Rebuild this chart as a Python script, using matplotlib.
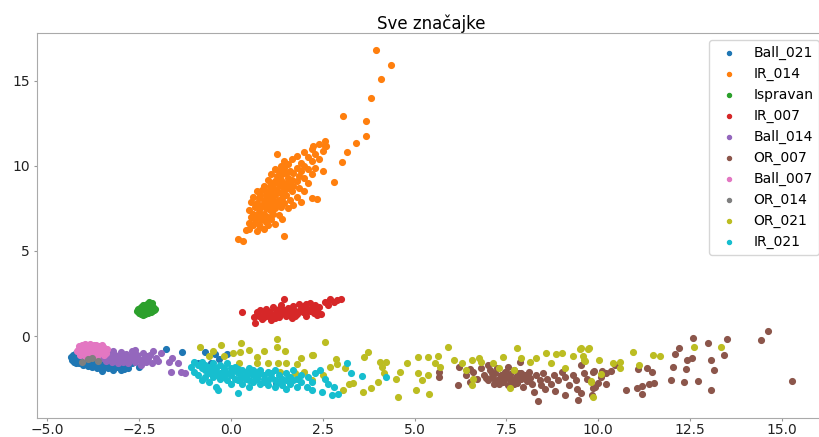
import matplotlib
matplotlib.use("Agg")
from matplotlib import pyplot as plt

# tocke po klasama (x, y) procitane sa slike
ball_021 = [(-4.35,-1.25),(-4.32,-1.4),(-4.3,-1.1),(-4.28,-1.55),(-4.25,-1.3),(-4.22,-1.0),(-4.2,-1.45),(-4.18,-1.2),
            (-4.15,-1.6),(-4.12,-1.35),(-4.1,-1.05),(-4.08,-1.5),(-4.05,-1.25),(-4.02,-1.7),(-4.0,-1.4),(-3.98,-1.15),
            (-3.95,-1.55),(-3.92,-1.3),(-3.9,-1.75),(-3.88,-1.45),(-3.85,-1.2),(-3.82,-1.6),(-3.8,-1.35),(-3.78,-1.85),
            (-3.75,-1.5),(-3.72,-1.25),(-3.7,-1.65),(-3.68,-1.4),(-3.65,-1.9),(-3.62,-1.55),(-3.6,-1.3),(-3.58,-1.7),
            (-3.55,-1.45),(-3.52,-2.05),(-3.5,-1.6),(-3.48,-1.35),(-3.45,-1.8),(-3.42,-1.5),(-3.4,-1.65),(-3.35,-1.9),
            (-3.3,-1.55),(-3.25,-1.75),(-3.2,-2.0),(-3.15,-1.6),(-3.1,-1.85),(-3.05,-1.7),(-3.0,-2.0),(-2.95,-1.8),
            (-2.9,-1.95),(-2.85,-1.75),(-2.8,-1.9),(-4.3,-1.35),(-4.27,-1.15),(-4.23,-1.6),(-4.17,-1.4),(-4.13,-1.25),
            (-4.07,-1.6),(-4.03,-1.5),(-3.97,-1.65),(-3.93,-1.45),(-3.87,-1.6),(-3.83,-1.4),(-3.77,-1.7),(-3.73,-1.55),
            (-3.67,-1.75),(-3.63,-1.35),(-3.57,-1.6),(-3.53,-1.8),(-4.2,-1.3),(-4.1,-1.5),(-1.78,-0.78),(-1.32,-0.94),
            (-0.71,-0.96),(-0.43,-1.08),(-0.1,-1.04),(-0.33,-1.37),(-0.55,-1.61),(-0.89,-1.57),(1.22,-2.78),
            (-2.7,-1.6),(-2.5,-1.85)]

ir_014 = [(3.95,16.8),(4.37,15.96),(4.09,15.1),(3.81,14.0),(3.05,12.94),(3.68,12.65),(3.68,11.76),(3.41,11.35),
          (3.16,10.8),(3.02,10.25),(2.8,9.04),(2.57,11.49),(2.55,11.2),(2.23,11.2),(1.24,10.69),(2.33,8.06),
          (1.45,5.9),(0.18,5.69),(0.32,5.6),(0.41,6.24),(0.5,6.67),
          (0.5,6.3),(0.5,7.4),(0.55,7.0),(0.55,7.9),(0.6,6.5),(0.6,7.2),(0.6,8.2),(0.65,6.8),(0.65,7.6),
          (0.7,6.2),(0.7,7.0),(0.7,7.8),(0.7,8.5),(0.75,6.6),(0.75,7.3),(0.75,8.1),(0.8,6.4),(0.8,7.5),(0.8,8.3),
          (0.8,7.0),(0.85,6.9),(0.85,7.7),(0.85,8.6),(0.9,6.3),(0.9,7.2),(0.9,8.0),(0.9,8.8),(0.95,6.7),(0.95,7.5),
          (0.95,8.3),(1.0,7.0),(1.0,7.8),(1.0,8.5),(1.0,9.2),(1.0,6.5),(1.05,7.4),(1.05,8.1),(1.05,8.8),(1.1,6.9),
          (1.1,7.7),(1.1,8.4),(1.1,9.5),(1.15,7.2),(1.15,8.0),(1.15,8.7),(1.15,9.0),(1.2,6.6),(1.2,7.5),(1.2,8.3),
          (1.2,9.1),(1.2,9.8),(1.25,7.8),(1.25,8.6),(1.25,9.4),(1.3,7.1),(1.3,8.0),(1.3,8.9),(1.3,9.7),(1.35,7.6),
          (1.35,8.4),(1.35,9.2),(1.35,10.0),(1.4,6.9),(1.4,8.1),(1.4,8.8),(1.4,9.5),(1.45,7.8),(1.45,8.6),(1.45,9.9),
          (1.45,10.3),(1.5,8.3),(1.5,9.0),(1.5,9.6),(1.55,7.5),(1.55,8.7),(1.55,9.3),(1.55,10.1),(1.6,8.0),(1.6,8.9),
          (1.6,9.7),(1.65,8.5),(1.65,9.2),(1.65,10.4),(1.7,7.7),(1.7,8.8),(1.7,9.6),(1.8,8.2),(1.8,9.1),(1.8,9.9),
          (1.8,10.6),(1.85,8.7),(1.85,9.4),(1.9,7.9),(1.9,9.7),(1.9,10.2),(2.0,8.5),(2.0,9.3),(2.0,10.0),(2.0,10.8),
          (2.1,9.0),(2.1,9.8),(2.1,10.5),(2.2,8.1),(2.2,9.5),(2.2,10.3),(2.2,11.0),(2.3,9.9),(2.3,10.7),(2.4,10.4),
          (2.4,11.3),(2.5,10.9),(2.5,9.7),(2.6,11.2)]

ispravan = [(-2.55,1.45),(-2.52,1.6),(-2.5,1.35),(-2.48,1.5),(-2.45,1.7),(-2.45,1.3),(-2.42,1.55),(-2.4,1.4),
            (-2.4,1.8),(-2.38,1.65),(-2.35,1.3),(-2.35,1.5),(-2.33,1.75),(-2.3,1.4),(-2.3,1.6),(-2.28,1.9),
            (-2.27,1.5),(-2.25,1.35),(-2.25,1.7),(-2.22,1.55),(-2.2,1.8),(-2.2,1.45),(-2.18,1.65),(-2.15,1.95),
            (-2.15,1.5),(-2.12,1.7),(-2.1,1.55),(-2.08,1.6),(-2.5,1.55),(-2.43,1.45),(-2.37,1.55),(-2.32,1.45),
            (-2.24,1.6),(-2.17,1.4),(-2.13,1.6),(-2.28,1.7),(-2.35,1.85),(-2.22,2.0),(-2.47,1.4),(-2.4,1.25)]

ir_007 = [(0.3,1.4),(0.65,0.75),(0.62,1.1),(0.7,1.4),(0.75,1.2),(0.8,1.55),(0.85,1.0),(0.9,1.3),(0.95,1.6),
          (1.0,1.15),(1.05,1.4),(1.1,0.95),(1.15,1.7),(1.2,1.3),(1.25,1.5),(1.3,1.1),(1.35,1.8),(1.4,1.35),
          (1.45,1.55),(1.5,1.2),(1.55,1.65),(1.6,1.4),(1.65,1.05),(1.7,1.75),(1.75,1.5),(1.8,1.3),(1.85,1.9),
          (1.9,1.6),(1.95,1.4),(2.0,1.75),(2.05,1.2),(2.1,1.55),(2.15,1.95),(2.2,1.65),(2.25,1.35),(2.3,1.8),
          (2.35,1.55),(2.4,1.7),(2.45,1.3),(2.55,2.0),(2.65,1.85),(2.7,2.2),(2.8,2.0),(2.9,2.1),(3.0,2.2),
          (1.45,2.2),(0.9,1.1),(1.1,1.25),(1.3,1.6),(1.55,1.3),(1.75,1.2),(1.95,1.7),(2.15,1.45),(2.35,1.25),
          (0.95,1.45),(1.2,1.05),(1.65,1.6),(1.85,1.45),(2.05,1.9),(2.3,1.5)]

ball_014 = [(-3.6,-1.0),(-3.55,-1.3),(-3.5,-0.85),(-3.45,-1.15),(-3.4,-1.45),(-3.35,-0.95),(-3.3,-1.25),
            (-3.25,-1.55),(-3.2,-0.9),(-3.15,-1.1),(-3.1,-1.4),(-3.05,-1.2),(-3.0,-0.95),(-2.95,-1.5),(-2.9,-1.3),
            (-2.85,-1.05),(-2.8,-1.6),(-2.75,-1.35),(-2.7,-0.9),(-2.65,-1.2),(-2.6,-1.5),(-2.55,-1.1),(-2.5,-1.35),
            (-2.45,-1.7),(-2.4,-1.0),(-2.35,-1.25),(-2.3,-1.55),(-2.25,-1.3),(-2.2,-1.1),(-2.15,-1.6),(-2.13,-0.86),
            (-2.05,-1.3),(-2.0,-1.45),(-3.38,-1.05),(-3.22,-1.35),(-3.08,-1.6),(-2.98,-1.15),(-2.88,-1.45),
            (-2.72,-1.15),(-2.58,-1.3),(-2.42,-1.45),(-2.28,-1.2),(-1.63,-2.1),(-1.37,-2.1),(-1.25,-2.2),
            (-1.45,-1.6),(-1.6,-1.3),(-1.7,-1.55),(-1.9,-1.0),(-2.6,-0.85)]

or_007 = [(14.62,0.31),(14.44,-0.24),(15.26,-2.67),(12.58,-0.12),(13.5,-0.18),(12.99,-0.39),(12.21,-0.69),
          (12.1,-1.06),(12.54,-1.27),(12.41,-1.43),(13.08,-1.41),(13.42,-1.14),(12.04,-1.8),(12.39,-1.96),
          (13.16,-1.98),(11.97,-2.59),(12.33,-2.69),(12.71,-2.67),(13.06,-3.16),(11.33,-1.86),(11.46,-2.12),
          (11.08,-1.92),(11.51,-2.78),(11.37,-2.82),(11.19,-2.94),(11.04,-3.04),(11.18,-3.41),(10.75,-3.16),
          (10.45,-1.71),(10.34,-2.04),(10.22,-2.16),(10.11,-2.06),(9.88,-2.08),(10.07,-2.39),(10.2,-2.84),
          (10.0,-2.78),(9.86,-3.08),(9.82,-3.47),(9.54,-1.71),(9.52,-3.37),
          (5.67,-2.1),(5.67,-2.4),(6.17,-2.88),(6.52,-1.96),(7.0,-1.71),(7.55,-1.8),(7.86,-1.5),(8.35,-3.8),
          (8.83,-3.22),(9.09,-3.47),(9.41,-3.14),(9.45,-3.76),(9.86,-2.1),(9.9,-3.0),
          (6.4,-2.3),(6.6,-2.1),(6.7,-2.5),(6.8,-1.9),(6.9,-2.3),(7.0,-2.6),(7.05,-2.0),(7.1,-2.4),(7.15,-2.8),
          (7.2,-2.2),(7.25,-1.9),(7.3,-2.5),(7.35,-2.3),(7.4,-2.7),(7.45,-2.1),(7.5,-2.45),(7.55,-2.9),(7.6,-2.25),
          (7.65,-2.6),(7.7,-2.0),(7.75,-2.4),(7.8,-2.75),(7.85,-2.2),(7.9,-2.5),(7.95,-3.0),(8.0,-2.3),(8.05,-2.65),
          (8.1,-2.1),(8.15,-2.45),(8.2,-2.85),(8.3,-2.3),(8.4,-2.6),(8.5,-2.2),(8.55,-3.1),(8.6,-2.5),(8.7,-2.8),
          (8.8,-2.3),(8.9,-2.6),(9.0,-2.1),(9.1,-2.4),(9.2,-2.9),(9.3,-2.3),(9.4,-2.6),(9.6,-2.2),(9.7,-2.5),
          (7.2,-2.6),(7.4,-2.35),(7.6,-2.55),(7.8,-2.35),(7.1,-2.15),(7.3,-2.8),(7.5,-2.15),(7.7,-2.8),(7.9,-2.15),
          (8.1,-2.6),(6.95,-2.45),(8.25,-3.3),(8.45,-2.9),(6.2,-1.8),(6.5,-2.7)]

ball_007 = [(-4.2,-0.9),(-4.15,-0.6),(-4.12,-1.1),(-4.1,-0.75),(-4.05,-0.5),(-4.02,-0.95),(-4.0,-0.65),
            (-3.98,-1.15),(-3.95,-0.8),(-3.92,-0.55),(-3.9,-1.0),(-3.88,-0.7),(-3.85,-0.45),(-3.82,-0.9),(-3.8,-0.6),
            (-3.78,-1.1),(-3.75,-0.8),(-3.72,-0.5),(-3.7,-0.95),(-3.68,-0.7),(-3.65,-1.2),(-3.62,-0.85),(-3.6,-0.6),
            (-3.57,-1.0),(-3.55,-0.75),(-3.52,-0.55),(-3.5,-0.9),(-3.47,-1.1),(-3.45,-0.7),(-3.42,-0.85),(-3.4,-1.0),
            (-3.37,-0.75),(-4.17,-0.8),(-4.07,-0.85),(-3.97,-0.45),(-3.87,-0.85),(-3.77,-0.7),(-3.67,-0.55),
            (-3.58,-0.8),(-3.48,-0.65),(-4.0,-1.05),(-3.9,-0.6),(-3.8,-0.95),(-3.7,-0.6),(-4.1,-1.0)]

or_014 = [(-4.05,-1.5),(-3.78,-1.3),(-3.62,-1.45),(-3.9,-1.35)]

or_021 = [(-0.83,-0.67),(-0.28,-0.53),(0.27,-0.39),(0.24,-0.92),(0.05,-1.0),(1.25,-0.2),(1.25,-0.67),(1.47,-0.88),
          (0.7,-1.22),(0.7,-1.61),(0.22,-1.57),(1.0,-1.57),(1.27,-1.61),(1.5,-1.6),(1.79,-1.65),(2.2,-1.1),
          (2.57,-0.33),(1.33,-2.1),(1.75,-2.2),(2.0,-2.1),(2.2,-2.6),(2.22,-1.12),(2.86,-1.37),(2.88,-1.65),
          (3.62,-1.22),(3.73,-0.96),(4.05,-1.5),(4.22,-1.5),(4.1,-1.8),(4.16,-2.2),(4.0,-2.72),(3.8,-3.08),
          (3.6,-3.3),(3.32,-2.76),(3.2,-2.8),(3.04,-3.2),(4.6,-2.1),(4.5,-2.5),(4.55,-3.57),(4.78,-1.57),
          (5.05,-3.17),(5.1,-1.22),(5.37,-1.22),(5.64,-1.2),(5.1,-2.2),(5.2,-2.6),(5.36,-2.3),(5.4,-3.41),
          (5.55,-1.6),(5.69,-1.8),(5.9,-0.63),(6.07,-1.41),(6.39,-2.0),(6.3,-1.6),(6.55,-1.41),(6.75,-1.27),
          (6.6,-2.55),(6.57,-2.88),(7.12,-1.57),(7.41,-1.22),(7.3,-1.9),(7.8,-0.69),(7.89,-1.31),(8.14,-1.5),
          (8.57,-0.98),(8.84,-1.08),(9.0,-0.98),(8.7,-1.6),(9.09,-1.86),(9.31,-1.18),(9.5,-0.75),(9.73,-0.75),
          (9.6,-1.41),(9.79,-2.69),(9.86,-3.57),(7.59,-3.08),(9.52,-0.73),(9.75,-0.73),(9.59,-1.18),(9.63,-1.45),
          (10.01,-1.41),(10.39,-1.57),(10.58,-1.5),(10.58,-1.86),(10.06,-2.24),(9.79,-2.65),(10.95,-0.92),
          (11.11,-1.71),(11.48,-1.1),(11.69,-1.18),(12.6,-0.67),(13.35,-0.63),(-0.5,-0.9),(-0.2,-1.2),(0.5,-0.8),
          (-0.6,-1.2),(1.9,-1.3),(0.9,-0.9),(2.7,-1.8),(2.5,-2.3),(3.1,-1.9),(6.8,-1.5),(7.7,-2.0),(8.3,-1.3)]

ir_021 = [(-1.1,-1.8),(-1.0,-1.55),(-1.0,-2.1),(-0.9,-1.7),(-0.9,-2.3),(-0.8,-1.9),(-0.8,-1.5),(-0.8,-2.6),
          (-0.7,-2.0),(-0.7,-2.4),(-0.7,-1.7),(-0.6,-1.8),(-0.6,-2.2),(-0.6,-2.7),(-0.5,-1.6),(-0.5,-2.0),
          (-0.5,-2.4),(-0.4,-1.9),(-0.4,-2.3),(-0.4,-2.1),(-0.4,-3.0),(-0.35,-3.2),(-0.3,-1.7),(-0.3,-2.2),
          (-0.3,-2.5),(-0.2,-1.9),(-0.2,-2.4),(-0.2,-2.0),(-0.1,-2.2),(-0.1,-1.6),(-0.1,-2.6),(0.0,-1.9),
          (0.0,-2.3),(0.0,-2.8),(0.0,-2.1),(0.1,-2.0),(0.1,-2.5),(0.1,-1.8),(0.19,-3.33),(0.2,-2.2),(0.2,-2.6),
          (0.2,-1.95),(0.3,-2.4),(0.3,-2.0),(0.3,-2.8),(0.4,-2.1),(0.4,-2.5),(0.4,-2.3),(0.5,-1.9),(0.5,-2.6),
          (0.5,-2.2),(0.5,-3.0),(0.6,-2.3),(0.6,-2.0),(0.6,-2.7),(0.7,-2.4),(0.7,-2.1),(0.7,-2.55),(0.8,-2.2),
          (0.8,-2.8),(0.8,-2.0),(0.9,-2.5),(0.9,-2.3),(0.9,-2.7),(1.0,-2.1),(1.0,-2.6),(1.0,-2.9),(1.1,-2.4),
          (1.1,-2.2),(1.2,-2.6),(1.2,-2.0),(1.2,-3.0),(1.3,-2.3),(1.3,-2.7),(1.4,-2.5),(1.4,-2.9),(1.5,-2.2),
          (1.5,-2.6),(1.5,-3.1),(1.6,-2.4),(1.6,-2.8),(1.7,-2.0),(1.7,-2.6),(1.8,-2.5),(1.8,-3.0),(1.9,-2.3),
          (1.9,-2.7),(2.06,-2.98),(2.1,-2.4),(2.2,-2.7),(2.2,-3.2),(2.3,-2.2),(2.42,-2.0),(2.47,-3.27),(2.55,-2.5),
          (2.74,-3.47),(2.92,-3.4),(2.65,-2.8),(3.15,-1.61),(3.28,-2.2),(3.56,-2.35),(4.22,-2.43),(2.8,-3.0)]

labels = ["Ball_021", "IR_014", "Ispravan", "IR_007", "Ball_014",
          "OR_007", "Ball_007", "OR_014", "OR_021", "IR_021"]
groups = [ball_021, ir_014, ispravan, ir_007, ball_014,
          or_007, ball_007, or_014, or_021, ir_021]

fig = plt.figure(figsize=(8.19, 4.37), dpi=100)
# desni rub osi izlazi malo izvan slike (kao na originalu)
ax = fig.add_axes([0.0452, 0.0435, 0.9634, 0.881])

for lab, pts in zip(labels, groups):
    xs = [p[0] for p in pts]
    ys = [p[1] for p in pts]
    ax.scatter(xs, ys, s=17, label=lab)

ax.set_xlim(-5.28, 16.2)
ax.set_ylim(-4.82, 17.82)
ax.set_xticks([-5.0, -2.5, 0.0, 2.5, 5.0, 7.5, 10.0, 12.5, 15.0])
ax.set_yticks([0, 5, 10, 15])
ax.tick_params(labelsize=10, length=2.5, pad=2.5, color='#999999', labelcolor='#222222')
ax.tick_params(axis='x', pad=1.0)
for sp in ax.spines.values():
    sp.set_color('#aaaaaa')
ax.set_title("Sve značajke", fontsize=12, pad=3)
ax.legend(loc='upper right', fontsize=10, markerscale=0.7)

plt.savefig('out.png', dpi=100)
